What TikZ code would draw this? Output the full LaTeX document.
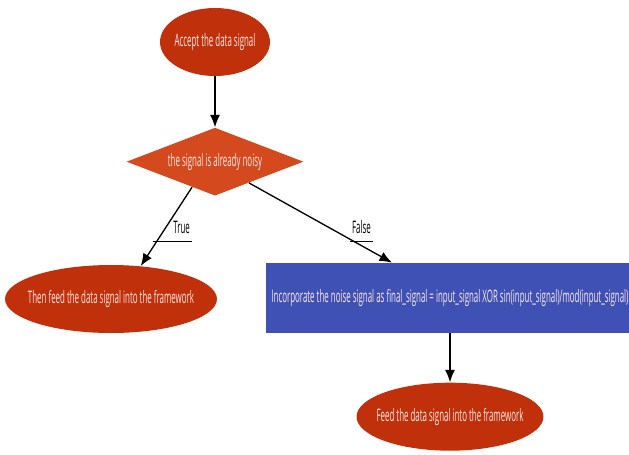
\documentclass[tikz,border=0pt]{standalone}
\usepackage{fontspec}
\setmainfont{Open Sans}[FakeStretch=0.46]
\usepackage{xcolor}
\usetikzlibrary{arrows.meta,positioning,shapes.geometric}

\definecolor{rustred}{HTML}{C0300A}
\definecolor{burntorange}{HTML}{D4491E}
\definecolor{indigoblue}{HTML}{3F51B5}
\definecolor{paletext}{HTML}{FBE9E7}

\begin{document}
\begin{tikzpicture}[
    x=0.02cm, y=-0.02cm,
    font=\fontsize{9.8}{11}\selectfont,
    terminal/.style={
      ellipse,
      fill=rustred,
      text=paletext,
      inner xsep=-3mm,
      inner ysep=0pt,
      minimum height=1.36cm
    },
    decision/.style={
      diamond,
      fill=burntorange,
      text=paletext,
      aspect=2.6,
      inner sep=0pt,
      minimum width=3.54cm,
      minimum height=1.36cm
    },
    process/.style={
      rectangle,
      fill=indigoblue,
      text=paletext,
      minimum width=7.36cm,
      minimum height=1.4cm,
      inner sep=1pt
    },
    branch/.style={inner xsep=1pt, inner ysep=4pt},
    flow/.style={-{Latex[length=2.5mm,width=2mm]},line width=0.75pt}
  ]
    \useasboundingbox (0,0) rectangle (629,454);
    \node[terminal,minimum width=2.2cm] (accept) at (215,42) {Accept the data signal};
    \node[decision,below=1.02cm of accept] (noisy) {the signal is already noisy};
    \node[terminal,minimum width=4.24cm] (feednow) at (111,299) {Then feed the data signal into the framework};
    \node[process] (mixnoise) at (450,298) {Incorporate the noise signal as final\_signal = input\_signal XOR sin(input\_signal)/mod(input\_signal)};
    \node[terminal,minimum width=3.74cm,below=0.98cm of mixnoise] (feedlater) {Feed the data signal into the framework};
    \draw[flow] (accept) -- (noisy);
    \draw[flow] (noisy.228) -- (feednow.48);
    \draw[flow] (noisy.328) -- ([xshift=-1.16cm]mixnoise.north);
    \draw[flow] (mixnoise) -- (feedlater);
    % branch labels
    \node[branch,text width=0.7cm,align=right,anchor=south east] (truetag) at (192,241) {True};
    \draw (truetag.south west) -- (truetag.south east);
    \node[branch,anchor=south west] (falsetag) at (350,241) {False};
    \draw (falsetag.south west) -- (falsetag.south east);
  \end{tikzpicture}
\end{document}
